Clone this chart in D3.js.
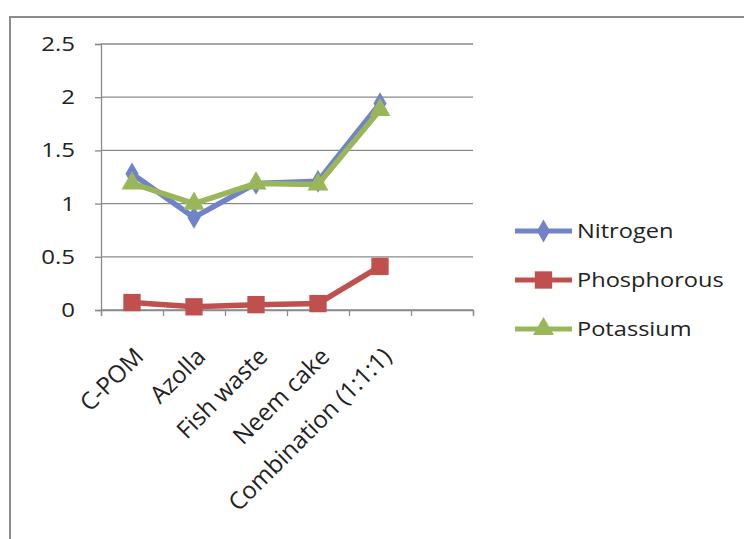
<!DOCTYPE html>
<html>
<head>
<meta charset="utf-8">
<script src="https://cdn.jsdelivr.net/npm/d3@7"></script>
<style>
  body { margin: 0; background: #fff; }
  text { font-family: "Open Sans", "Noto Sans", sans-serif; fill: #222; }
</style>
</head>
<body>
<div id="chart"></div>
<script>
// categories (last slot is empty in the original)
var categories = ["C-POM", "Azolla", "Fish waste", "Neem cake", "Combination (1:1:1)", ""];
var seriesNames = ["Nitrogen", "Phosphorous", "Potassium"];
var nitrogen    = [1.28, 0.87, 1.19, 1.21, 1.94];
var phosphorous = [0.07, 0.03, 0.05, 0.06, 0.41];
var potassium   = [1.19, 1.00, 1.19, 1.18, 1.88];
var yTicks = [0, 0.5, 1, 1.5, 2, 2.5];

var W = 744, H = 539;
var margin = {top: 44, left: 101, right: 271, bottom: 229};

var svg = d3.select("#chart").append("svg")
    .attr("width", W)
    .attr("height", H);

// outer chart border
svg.append("rect")
    .attr("x", 10).attr("y", 17)
    .attr("width", 760).attr("height", 560)
    .attr("fill", "none")
    .attr("stroke", "#8c8c8c")
    .attr("stroke-width", 2);

var x = d3.scaleBand()
    .domain(categories)
    .range([margin.left, W - margin.right])
    .padding(0);

var y = d3.scaleLinear()
    .domain([0, 2.5])
    .range([H - margin.bottom, margin.top]);

// gridlines
svg.append("g")
    .selectAll("line")
    .data(yTicks)
    .enter()
    .append("line")
        .attr("x1", margin.left)
        .attr("x2", W - margin.right)
        .attr("y1", function(d) { return y(d); })
        .attr("y2", function(d) { return y(d); })
        .attr("stroke", "#8a8a8a")
        .attr("stroke-width", 1.3);

// y axis
var yAxis = svg.append("g")
    .attr("transform", "translate(" + margin.left + ",0)")
    .call(d3.axisLeft(y).tickValues(yTicks).tickSize(6).tickFormat(d3.format("~g")));
yAxis.select(".domain").attr("stroke", "#8a8a8a").attr("stroke-width", 1.3);
yAxis.selectAll(".tick line").attr("stroke", "#8a8a8a").attr("stroke-width", 1.3);
yAxis.selectAll(".tick text")
    .attr("x", null)
    .style("font-size", "20px")
    .style("font-family", "'Open Sans', sans-serif")
    .attr("fill", "#222")
    .attr("text-anchor", "end")
    .attr("transform", "translate(-26,0) scale(1.2,1)");

// x axis: ticks sit on the category boundaries
var xEdges = d3.scaleLinear()
    .domain([0, categories.length])
    .range(x.range());
var xAxis = svg.append("g")
    .attr("transform", "translate(0," + y(0) + ")")
    .call(d3.axisBottom(xEdges).ticks(categories.length).tickSize(6).tickFormat(""));
xAxis.select(".domain").attr("stroke", "#8a8a8a").attr("stroke-width", 1.3);
xAxis.selectAll(".tick line").attr("stroke", "#8a8a8a").attr("stroke-width", 1.3);

// rotated category labels
svg.append("g")
    .selectAll("text")
    .data(categories.filter(function(c) { return c !== ""; }))
    .enter()
    .append("text")
        .attr("transform", function(d) {
            return "translate(" + (x(d) + x.bandwidth() / 2 + 7) + "," + (y(0) + 42) + ") rotate(-45)";
        })
        .attr("text-anchor", "end")
        .attr("dy", "0.35em")
        .style("font-size", "24px")
        .text(function(d) { return d; });

var colors = ["#7083c8", "#c0504d", "#99b65a"];
var values = [nitrogen, phosphorous, potassium];

var series = seriesNames.map(function(name, i) {
    return {
        name: name,
        color: colors[i],
        points: values[i].map(function(v, j) { return {cat: categories[j], v: v}; })
    };
});

var line = d3.line()
    .x(function(d) { return x(d.cat) + x.bandwidth() / 2; })
    .y(function(d) { return y(d.v); });

var symbols = [d3.symbolDiamond, d3.symbolSquare, d3.symbolTriangle];
var symSize = [150, 300, 190];

series.forEach(function(s, i) {
    svg.append("path")
        .datum(s.points)
        .attr("fill", "none")
        .attr("stroke", s.color)
        .attr("stroke-width", 5.5)
        .attr("stroke-linejoin", "round")
        .attr("d", line);

    svg.append("g")
        .selectAll("path")
        .data(s.points)
        .enter()
        .append("path")
            .attr("transform", function(d) {
                return "translate(" + (x(d.cat) + x.bandwidth() / 2) + "," + y(d.v) + ")";
            })
            .attr("d", d3.symbol().type(symbols[i]).size(symSize[i]))
            .attr("fill", s.color);
});

// legend
var legend = svg.append("g")
    .selectAll("g")
    .data(series)
    .enter()
    .append("g")
        .attr("transform", function(d, i) { return "translate(515," + (231 + i * 49) + ")"; });

legend.append("line")
    .attr("x1", 0).attr("x2", 57)
    .attr("stroke", function(d) { return d.color; })
    .attr("stroke-width", 5);

legend.append("path")
    .attr("transform", "translate(28.5,0)")
    .attr("d", function(d, i) { return d3.symbol().type(symbols[i]).size(symSize[i])(); })
    .attr("fill", function(d) { return d.color; });

legend.append("text")
    .attr("transform", "translate(62,0) scale(1.18,1)")
    .attr("dy", "0.35em")
    .style("font-size", "20px")
    .text(function(d) { return d.name; });
</script>
</body>
</html>
